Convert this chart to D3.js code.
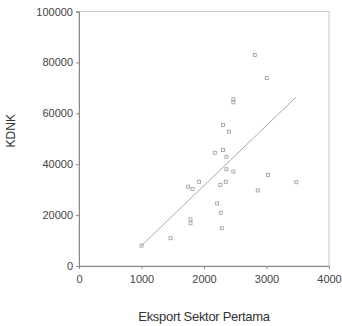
<!DOCTYPE html>
<html><head><meta charset="utf-8">
<script src="https://cdn.jsdelivr.net/npm/d3@7"></script>
<style>body{margin:0;background:#fff}svg{display:block}</style>
</head><body>
<script>
const xTicks = [0, 1000, 2000, 3000, 4000];
const yTicks = [0, 20000, 40000, 60000, 80000, 100000];
const eksport = [1000,1465,1746,1816,1922,1784,1784,2172,2210,2263,2268,2284,2305,2401,2305,2359,2359,2348,2470,2470,2470,2812,3003,3025,3477,2860];
const kdnk    = [8000,10900,31200,30300,33100,18300,16800,44500,24600,31800,20900,14800,55400,52800,45600,42900,38000,33100,37100,65500,64300,82900,73900,35800,32900,29700];
const fitX = [1000, 3470];
const fitY = [8000, 66300];

const W = 342, H = 326;
const m = {left: 79, top: 11.5, right: 13, bottom: 60};
const svg = d3.select("body").append("svg").attr("width", W).attr("height", H);
const x = d3.scaleLinear().domain([0, 4000]).range([m.left, W - m.right]);
const y = d3.scaleLinear().domain([0, 100000]).range([H - m.bottom, m.top]);
const font = "Liberation Sans, Arial, sans-serif";

// frame
svg.append("rect").attr("x", x(0)).attr("y", y(100000))
  .attr("width", x(4000) - x(0)).attr("height", y(0) - y(100000))
  .attr("fill", "none").attr("stroke", "#c8c8c8").attr("stroke-width", 1);

const gx = svg.append("g").attr("transform", `translate(0,${y(0)})`)
  .call(d3.axisBottom(x).tickValues(xTicks).tickFormat(d3.format("d")).tickSize(3).tickPadding(6));
const gy = svg.append("g").attr("transform", `translate(${x(0)},0)`)
  .call(d3.axisLeft(y).tickValues(yTicks).tickFormat(d3.format("d")).tickSize(3).tickPadding(3));
[gx, gy].forEach(g => {
  g.select(".domain").attr("stroke", "#888");
  g.selectAll(".tick line").attr("stroke", "#888");
  g.selectAll("text").attr("fill", "#444").attr("font-size", 11).attr("font-family", font);
});

// fit line
svg.append("line")
  .attr("x1", x(fitX[0])).attr("y1", y(fitY[0]))
  .attr("x2", x(fitX[1])).attr("y2", y(fitY[1]))
  .attr("stroke", "#aaa").attr("stroke-width", 1);

// points
svg.append("g").selectAll("rect").data(eksport.map((d, i) => [d, kdnk[i]])).join("rect")
  .attr("x", d => x(d[0]) - 1.5).attr("y", d => y(d[1]) - 1.5)
  .attr("width", 3).attr("height", 3)
  .attr("fill", "none").attr("stroke", "#999").attr("stroke-width", 0.8);

svg.append("text").attr("transform", `translate(15,${(y(0) + y(100000)) / 2 - 8}) rotate(-90)`)
  .attr("text-anchor", "middle").attr("font-size", 12).attr("font-family", font)
  .attr("fill", "#333").text("KDNK");

svg.append("text").attr("x", x(2000)).attr("y", 321)
  .attr("text-anchor", "middle").attr("font-size", 13).attr("font-family", font)
  .attr("fill", "#333").attr("letter-spacing", -0.3).text("Eksport Sektor Pertama");
</script>
</body></html>
